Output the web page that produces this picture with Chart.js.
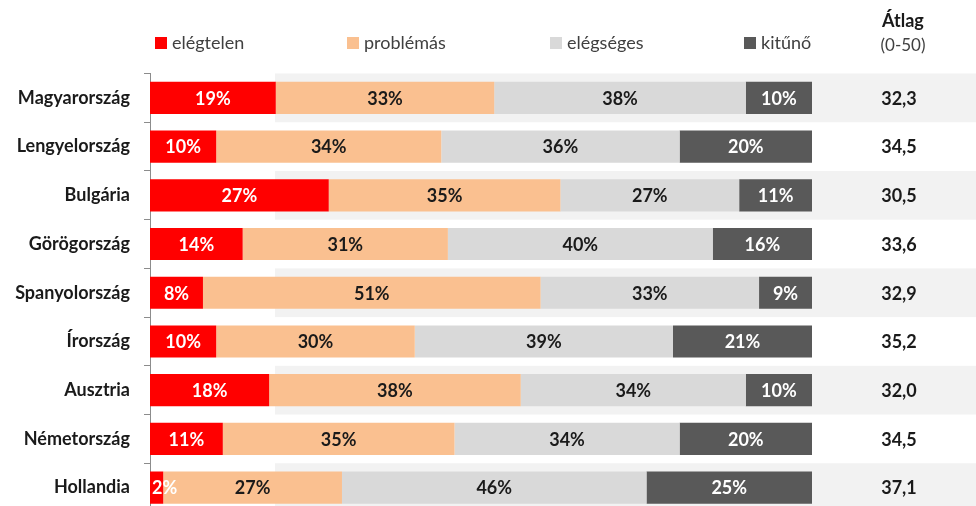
<!DOCTYPE html>
<html>
<head>
<meta charset="utf-8">
<script src="https://cdn.jsdelivr.net/npm/chart.js@4/dist/chart.umd.min.js"></script>
<style>
  html, body { margin: 0; padding: 0; overflow: hidden; background: #fff; }
  #c { display: block; }
</style>
</head>
<body>
<canvas id="c" width="976" height="512"></canvas>
<script>
// Country rows, top to bottom
const countries = ['Magyarország', 'Lengyelország', 'Bulgária', 'Görögország', 'Spanyolország', 'Írország', 'Ausztria', 'Németország', 'Hollandia'];
// Rating categories
const seriesNames = ['elégtelen', 'problémás', 'elégséges', 'kitűnő'];
// Share of each rating (%)
const elegtelen = [19, 10, 27, 14, 8, 10, 18, 11, 2];
const problemas = [33, 34, 35, 31, 51, 30, 38, 35, 27];
const elegseges = [38, 36, 27, 40, 33, 39, 34, 34, 46];
const kituno    = [10, 20, 11, 16, 9, 21, 10, 20, 25];
// Average score on a 0-50 scale
const atlag = [32.3, 34.5, 30.5, 33.6, 32.9, 35.2, 32.0, 34.5, 37.1];
const atlagTitle = 'Átlag';
const atlagSub = '(0-50)';

const fillColors = ['#ff0000', '#fac090', '#d9d9d9', '#595959'];
const textColors = ['#ffffff', '#1a1a1a', '#1a1a1a', '#ffffff'];
const legendX = [155, 347, 550, 744];
const FONT = 'Lato, "Open Sans", sans-serif';

const seriesValues = [elegtelen, problemas, elegseges, kituno];

// Alternating light bands behind the rows
const stripes = {
  id: 'stripes',
  beforeDatasetsDraw(chart) {
    const { ctx } = chart;
    const y = chart.scales.y;
    const pitch = Math.abs(y.getPixelForValue(1) - y.getPixelForValue(0));
    ctx.save();
    ctx.fillStyle = '#f2f2f2';
    countries.forEach((c, i) => {
      if (i % 2 === 0) {
        const yc = y.getPixelForValue(i);
        ctx.fillRect(275, yc - pitch / 2, chart.width - 275, pitch);
      }
    });
    ctx.restore();
  }
};

// Percentage labels inside each segment
const segmentLabels = {
  id: 'segmentLabels',
  afterDatasetsDraw(chart) {
    const { ctx, chartArea } = chart;
    ctx.save();
    ctx.font = 'bold 18px ' + FONT;
    ctx.textAlign = 'center';
    ctx.textBaseline = 'middle';
    chart.data.datasets.forEach((ds, di) => {
      const meta = chart.getDatasetMeta(di);
      meta.data.forEach((bar, i) => {
        const p = bar.getProps(['x', 'base', 'y'], true);
        const right = Math.min(p.x, chartArea.right);
        const txt = ds.data[i] + '%';
        const w = ctx.measureText(txt).width;
        let cx = (right + p.base) / 2;
        cx = Math.max(cx, chartArea.left + w / 2 + 2);
        ctx.fillStyle = textColors[di];
        ctx.fillText(txt, cx, p.y + 1);
      });
    });
    ctx.restore();
  }
};

// Legend row and the average column on the right
const sideInfo = {
  id: 'sideInfo',
  afterDraw(chart) {
    const { ctx } = chart;
    const y = chart.scales.y;
    ctx.save();
    // legend
    ctx.font = '18px ' + FONT;
    ctx.textBaseline = 'middle';
    ctx.textAlign = 'left';
    seriesNames.forEach((name, i) => {
      ctx.fillStyle = fillColors[i];
      ctx.fillRect(legendX[i], 37, 12, 12);
      ctx.fillStyle = '#404040';
      ctx.fillText(name, legendX[i] + 17, 43);
    });
    // average column header
    const colX = 903;
    ctx.textAlign = 'center';
    ctx.fillStyle = '#1a1a1a';
    ctx.font = 'bold 18px ' + FONT;
    ctx.fillText(atlagTitle, colX, 21);
    ctx.font = '17px ' + FONT;
    ctx.fillStyle = '#404040';
    ctx.fillText(atlagSub, colX, 46);
    // average values
    ctx.font = 'bold 18px ' + FONT;
    ctx.fillStyle = '#1a1a1a';
    atlag.forEach((v, i) => {
      ctx.fillText(v.toFixed(1).replace('.', ','), 899, y.getPixelForValue(i) + 1);
    });
    ctx.restore();
  }
};

new Chart(document.getElementById('c'), {
  type: 'bar',
  data: {
    labels: countries,
    datasets: seriesNames.map((name, i) => ({
      label: name,
      data: seriesValues[i],
      backgroundColor: fillColors[i],
      borderWidth: 0,
      barPercentage: 0.66,
      categoryPercentage: 1.0
    }))
  },
  options: {
    indexAxis: 'y',
    responsive: false,
    animation: false,
    layout: { padding: { top: 73.5, right: 164, bottom: 0, left: 0 } },
    plugins: {
      legend: { display: false },
      tooltip: { enabled: false }
    },
    scales: {
      x: {
        stacked: true,
        min: 0,
        max: 100,
        display: false
      },
      y: {
        stacked: true,
        afterFit(scale) {
          scale.width = 150;
          scale.paddingTop = 0;
          scale.paddingBottom = 0;
        },
        grid: {
          drawOnChartArea: false,
          drawTicks: true,
          tickLength: 6,
          color: '#8c8c8c'
        },
        border: { display: true, color: '#8c8c8c' },
        ticks: {
          padding: 14,
          color: '#1a1a1a',
          font: { family: FONT, size: 18, weight: 'bold' }
        }
      }
    }
  },
  plugins: [stripes, segmentLabels, sideInfo]
});
</script>
</body>
</html>
